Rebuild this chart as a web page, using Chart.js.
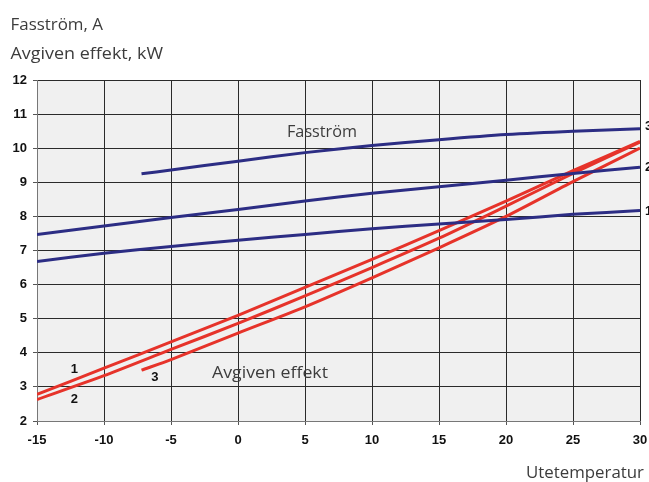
<!DOCTYPE html>
<html>
<head>
<meta charset="utf-8">
<script src="https://cdn.jsdelivr.net/npm/chart.js@4.4.1/dist/chart.umd.min.js"></script>
<style>
  html, body { margin: 0; padding: 0; background: #ffffff; }
  #wrap { width: 649px; height: 482px; }
</style>
</head>
<body>
<div id="wrap"><canvas id="chart" width="649" height="482"></canvas></div>
<script>
// Outdoor temperature (°C) at which each curve is sampled
const temps = [-15, -10, -5, 0, 5, 10, 15, 20, 25, 30];
const temps3 = [-7.2, -5, 0, 5, 10, 15, 20, 25, 30];

// Phase current, A
const fasstrom1 = [6.68, 6.92, 7.12, 7.30, 7.47, 7.64, 7.78, 7.91, 8.06, 8.17];
const fasstrom2 = [7.47, 7.72, 7.97, 8.20, 8.45, 8.68, 8.87, 9.06, 9.26, 9.44];
const fasstrom3 = [9.25, 9.36, 9.62, 9.87, 10.08, 10.25, 10.40, 10.50, 10.57];

// Heat output, kW
const effekt1 = [2.78, 3.55, 4.32, 5.10, 5.92, 6.74, 7.58, 8.45, 9.34, 10.20];
const effekt2 = [2.63, 3.33, 4.10, 4.86, 5.67, 6.50, 7.36, 8.30, 9.26, 10.18];
const effekt3 = [3.49, 3.80, 4.58, 5.35, 6.20, 7.08, 8.00, 9.02, 10.00];

// Axis ticks
const xTicks = [-15, -10, -5, 0, 5, 10, 15, 20, 25, 30];
const yTicks = [2, 3, 4, 5, 6, 7, 8, 9, 10, 11, 12];

// Curve numbers: [text, x, y]
const curveLabels = [
  ['1', -12.22, 3.52],
  ['2', -12.22, 2.63],
  ['3', -6.2, 3.28]
];
const endLabels = [
  ['3', 10.64],
  ['2', 9.43],
  ['1', 8.16]
];

const BLUE = '#2c2d84';
const RED = '#e6332a';

function pts(xs, ys) {
  return xs.map((x, i) => ({ x: x, y: ys[i] }));
}

function series(xs, ys, color) {
  return {
    data: pts(xs, ys),
    borderColor: color,
    borderWidth: 3,
    pointRadius: 0,
    tension: 0.25,
    fill: false
  };
}

const textFont = '"Open Sans", "Noto Sans", sans-serif';
const tickFont = '"Liberation Sans", Arial, sans-serif';

// Draw a text so that it spans [x0, x1] horizontally
function spanText(ctx, text, x0, x1, baseline) {
  const w = ctx.measureText(text).width;
  ctx.save();
  ctx.translate(x0, baseline);
  ctx.scale((x1 - x0) / w, 1);
  ctx.textAlign = 'left';
  ctx.fillText(text, 0, 0);
  ctx.restore();
}

const decor = {
  id: 'decor',
  beforeDraw(chart) {
    const { ctx, chartArea: a } = chart;
    ctx.save();
    ctx.fillStyle = '#f0f0f0';
    ctx.fillRect(a.left, a.top, a.right - a.left, a.bottom - a.top);
    ctx.restore();
  },
  afterDraw(chart) {
    const { ctx } = chart;
    const xs = chart.scales.x, ys = chart.scales.y;
    ctx.save();
    ctx.fillStyle = '#3c3c3c';
    ctx.font = '16.5px ' + textFont;
    ctx.textBaseline = 'alphabetic';
    spanText(ctx, 'Fasström, A', 10.5, 103, 29.5);
    spanText(ctx, 'Avgiven effekt, kW', 10.5, 163, 58.5);
    spanText(ctx, 'Fasström', 287, 357, 137);
    spanText(ctx, 'Avgiven effekt', 212, 328, 377.5);
    spanText(ctx, 'Utetemperatur', 526, 644, 478);

    ctx.fillStyle = '#111';
    ctx.font = 'bold 13px ' + tickFont;
    ctx.textBaseline = 'middle';
    ctx.textAlign = 'center';
    curveLabels.forEach(([t, x, y]) => {
      ctx.fillText(t, xs.getPixelForValue(x), ys.getPixelForValue(y));
    });
    ctx.textAlign = 'left';
    endLabels.forEach(([t, y]) => {
      ctx.fillText(t, xs.right + 5, ys.getPixelForValue(y));
    });
    ctx.restore();
  }
};

new Chart(document.getElementById('chart'), {
  type: 'line',
  data: {
    datasets: [
      series(temps, fasstrom1, BLUE),
      series(temps, fasstrom2, BLUE),
      series(temps3, fasstrom3, BLUE),
      series(temps, effekt1, RED),
      series(temps, effekt2, RED),
      series(temps3, effekt3, RED)
    ]
  },
  options: {
    responsive: false,
    animation: false,
    devicePixelRatio: 1,
    layout: { padding: { top: 80, right: 9, left: 0, bottom: 0 } },
    plugins: {
      legend: { display: false },
      tooltip: { enabled: false },
      title: { display: false }
    },
    scales: {
      x: {
        type: 'linear',
        min: xTicks[0],
        max: xTicks[xTicks.length - 1],
        afterBuildTicks(scale) { scale.ticks = xTicks.map(v => ({ value: v })); },
        afterFit(scale) {
          scale.height = 61;
          scale.paddingRight = 0;
          scale.paddingLeft = 0;
        },
        ticks: {
          color: '#111',
          font: { family: tickFont, size: 13, weight: 'bold' },
          padding: 8,
          maxRotation: 0,
          autoSkip: false
        },
        grid: { color: '#2a2a2a', lineWidth: 1, tickLength: 4, tickColor: '#555' },
        border: { color: '#777', width: 1 }
      },
      y: {
        type: 'linear',
        min: yTicks[0],
        max: yTicks[yTicks.length - 1],
        afterBuildTicks(scale) { scale.ticks = yTicks.map(v => ({ value: v })); },
        afterFit(scale) {
          scale.width = 37;
          scale.paddingTop = 0;
          scale.paddingBottom = 0;
        },
        ticks: {
          color: '#111',
          font: { family: tickFont, size: 13, weight: 'bold' },
          padding: 6,
          autoSkip: false
        },
        grid: { color: '#2a2a2a', lineWidth: 1, tickLength: 4, tickColor: '#555' },
        border: { color: '#777', width: 1 }
      }
    }
  },
  plugins: [decor]
});
</script>
</body>
</html>
